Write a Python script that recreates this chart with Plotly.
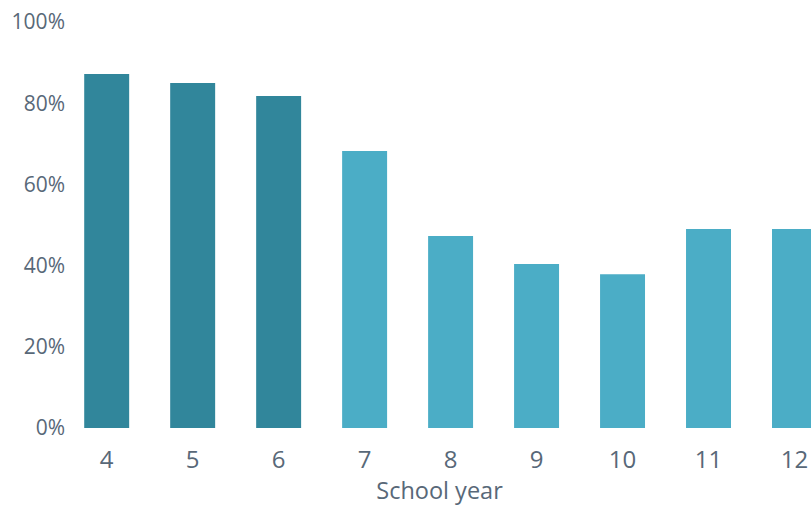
import plotly.graph_objects as go

years = ["4", "5", "6", "7", "8", "9", "10", "11", "12"]
values = [87.2, 85.0, 81.8, 68.2, 47.3, 40.4, 37.9, 49.0, 49.0]
stage = ["primary", "primary", "primary", "secondary", "secondary", "secondary", "secondary", "secondary", "secondary"]
y_ticks = [0, 20, 40, 60, 80, 100]
y_tick_labels = ["0%", "20%", "40%", "60%", "80%", "100%"]

palette = {"primary": "#31869B", "secondary": "#4BADC6"}
colors = [palette[s] for s in stage]

text_color = "#586878"
font_family = "Open Sans, Noto Sans, sans-serif"

fig = go.Figure(
    go.Bar(x=years, y=values, marker=dict(color=colors, line=dict(width=0)),
           hoverinfo="x+y")
)

fig.update_layout(
    width=811, height=506,
    margin=dict(l=68, r=0, t=22, b=78, pad=0),
    paper_bgcolor="white", plot_bgcolor="white",
    bargap=0.477,
    showlegend=False,
    font=dict(family=font_family, color=text_color),
)
fig.update_xaxes(
    type="category",
    range=[-0.45, 8.192],
    showgrid=False, showline=False, zeroline=False, ticks="",
    ticklabelstandoff=15,
    tickfont=dict(size=24, color=text_color),
    title=dict(text="School year", font=dict(size=23.5, color=text_color), standoff=5),
)
fig.update_yaxes(
    range=[0, 100],
    tickvals=y_ticks, ticktext=y_tick_labels,
    showgrid=False, showline=False, zeroline=False, ticks="",
    ticklabelstandoff=2,
    tickfont=dict(size=21, color=text_color),
)

fig.write_html("out.html")
